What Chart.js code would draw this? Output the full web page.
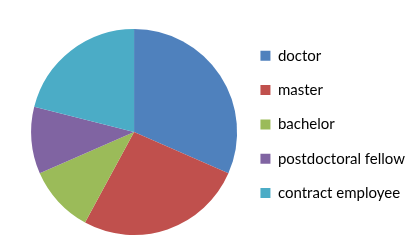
<!DOCTYPE html>
<html>
<head>
<meta charset="utf-8">
<script src="https://cdn.jsdelivr.net/npm/chart.js@4"></script>
<style>
  html, body { margin: 0; padding: 0; background: #fff; }
  #wrap { width: 420px; height: 250px; }
</style>
</head>
<body>
<div id="wrap"><canvas id="chart" width="420" height="250"></canvas></div>
<script>
// Daten
const categories = ['doctor', 'master', 'bachelor', 'postdoctoral fellow', 'contract employee'];
const counts = [30, 25, 10, 10, 20];
const sliceColors = ['#4F81BD', '#C0504D', '#9BBB59', '#8064A2', '#4BACC6'];

const ctx = document.getElementById('chart').getContext('2d');
const pieChart = new Chart(ctx, {
    type: 'pie',
    data: {
        labels: categories,
        datasets: [{
            data: counts,
            backgroundColor: sliceColors,
            borderWidth: 0
        }]
    },
    options: {
        responsive: false,
        animation: false,
        layout: {
            padding: { top: 29, bottom: 15, left: 27, right: 5 }
        },
        plugins: {
            tooltip: { enabled: false },
            legend: {
                position: 'right',
                align: 'start',
                labels: {
                    boxWidth: 10,
                    boxHeight: 10,
                    padding: 19.3,
                    color: '#000',
                    font: { family: 'Lato', size: 15 }
                }
            }
        }
    }
});
</script>
</body>
</html>
